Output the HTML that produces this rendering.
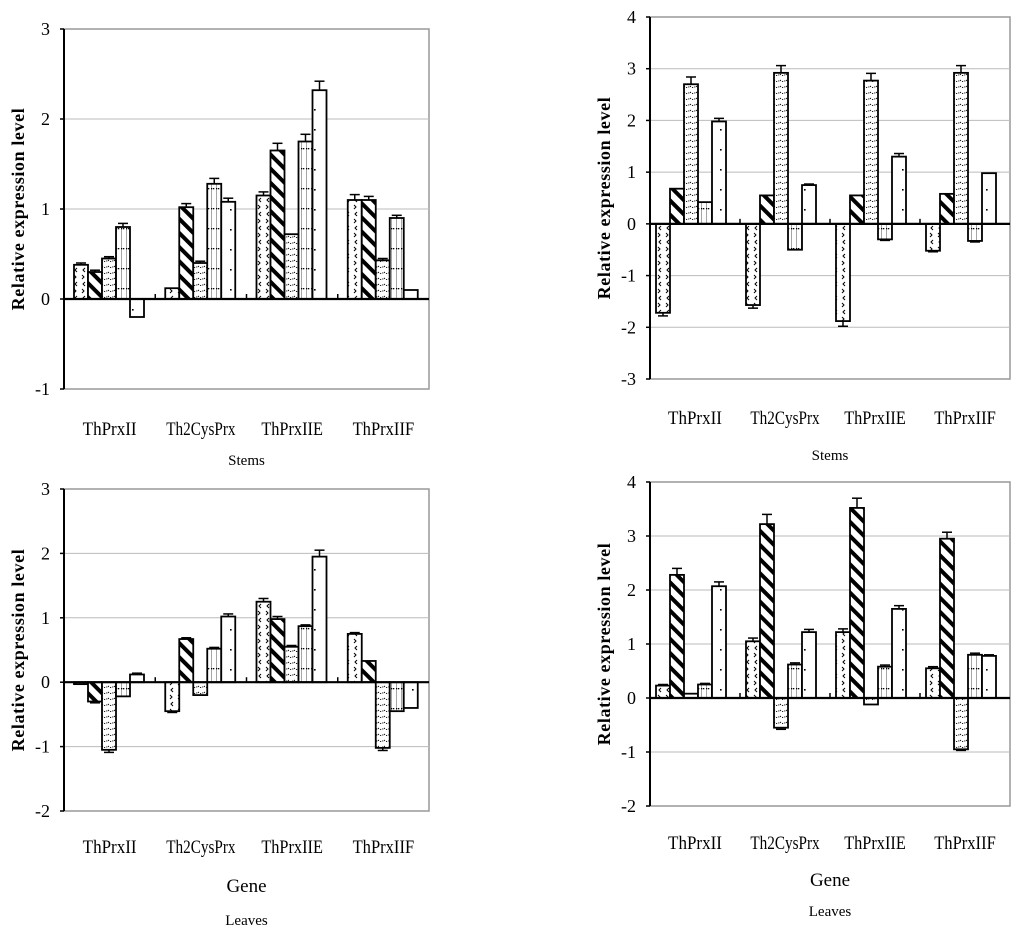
<!DOCTYPE html>
<html><head><meta charset="utf-8">
<style>
html,body{margin:0;padding:0;background:#fff;}
svg{display:block;font-family:"Liberation Serif",serif;}
</style></head>
<body>
<svg id="fig" width="1024" height="937" viewBox="0 0 1024 937">
<defs>
<pattern id="p0" width="8" height="14" patternUnits="userSpaceOnUse"><rect width="8" height="14" fill="#fff"/><path d="M5 2 L3 4 L5 6" stroke="#000" stroke-width="1" fill="none"/><path d="M2 9 L4 11 L2 13" stroke="#000" stroke-width="1" fill="none"/></pattern>
<pattern id="p1" width="10" height="10" patternUnits="userSpaceOnUse" patternTransform="rotate(-45)"><rect width="10" height="10" fill="#fff"/><rect x="0" y="0" width="4" height="10" fill="#000"/></pattern>
<pattern id="p2" width="6" height="6" patternUnits="userSpaceOnUse"><rect width="6" height="6" fill="#fff"/><path d="M0 2 Q3 5 6 2" stroke="#000" stroke-width="1" fill="none" stroke-dasharray="1.2 1.2"/></pattern>
<pattern id="p3" width="5" height="20" patternUnits="userSpaceOnUse"><rect width="5" height="20" fill="#fff"/><rect x="1" y="8" width="1.3" height="1.3" fill="#000"/><rect x="3" y="8" width="1.3" height="1.3" fill="#000"/><rect x="1" y="0" width="1" height="20" fill="#000" opacity="0.35"/></pattern>
<pattern id="p4" width="14" height="20" patternUnits="userSpaceOnUse"><rect width="14" height="20" fill="#fff"/><rect x="6" y="9" width="1.6" height="1.6" fill="#000"/></pattern>
</defs>
</svg>
<script>
// ---- data ----
const categories = ["ThPrxII","Th2CysPrx","ThPrxIIE","ThPrxIIF"];
const stemsLeftValues = [[0.38,0.30,0.45,0.80,-0.20],[0.12,1.02,0.40,1.28,1.08],[1.15,1.65,0.72,1.75,2.32],[1.10,1.10,0.43,0.90,0.10]];
const stemsLeftErr = [[0.02,0.02,0.02,0.04,0],[0,0.04,0.02,0.06,0.04],[0.04,0.08,0,0.08,0.1],[0.06,0.04,0.02,0.03,0]];
const stemsRightValues = [[-1.72,0.68,2.70,0.42,1.98],[-1.57,0.55,2.92,-0.50,0.75],[-1.88,0.55,2.77,-0.30,1.30],[-0.52,0.58,2.92,-0.33,0.98]];
const stemsRightErr = [[0.06,0,0.14,0,0.06],[0.06,0,0.14,0,0.02],[0.1,0,0.14,0.02,0.06],[0.02,0,0.14,0.02,0]];
const leavesLeftValues = [[-0.03,-0.30,-1.05,-0.22,0.12],[-0.45,0.67,-0.20,0.52,1.02],[1.25,0.98,0.55,0.87,1.95],[0.75,0.33,-1.02,-0.45,-0.40]];
const leavesLeftErr = [[0,0.02,0.04,0,0.02],[0.02,0.02,0,0.02,0.04],[0.05,0.04,0.02,0.02,0.1],[0.02,0,0.04,0,0]];
const leavesRightValues = [[0.23,2.28,0.08,0.25,2.07],[1.05,3.22,-0.55,0.62,1.22],[1.22,3.52,-0.12,0.58,1.65],[0.55,2.95,-0.95,0.80,0.78]];
const leavesRightErr = [[0.02,0.12,0,0.02,0.08],[0.06,0.18,0.03,0.03,0.05],[0.06,0.18,0,0.03,0.06],[0.03,0.12,0.02,0.03,0.02]];
const ticksTop = [3,2,1,0,-1];
const ticksTR = [4,3,2,1,0,-1,-2,-3];
const ticksBL = [3,2,1,0,-1,-2];
const ticksBR = [4,3,2,1,0,-1,-2];

const NS="http://www.w3.org/2000/svg";
const svg=document.getElementById('fig');
function mk(tag,attrs,parent){const e=document.createElementNS(NS,tag);for(const k in attrs)e.setAttribute(k,attrs[k]);(parent||svg).appendChild(e);return e;}

function chart(cfg){
  const g=mk('g',{});
  
  
  const {x0,x1,vmax,vmin,yTop,yBot}=cfg;
  const y=v=>yTop+(vmax-v)/(vmax-vmin)*(yBot-yTop);
  const gw=(x1-x0)/categories.length;
  const fr=mk('rect',{x:x0,y:yTop,width:x1-x0,height:yBot-yTop,fill:'none',stroke:'#999','stroke-width':1.5},g);
  
  
  cfg.ticks.forEach(t=>{
    if(t!==0 && t!==vmax && t!==vmin){
      const gl=mk('line',{x1:x0,x2:x1,y1:y(t),y2:y(t),stroke:'#bbb','stroke-width':1},g);
      
      
    }
    mk('line',{x1:x0-4,x2:x0,y1:y(t),y2:y(t),stroke:'#000','stroke-width':1.5},g);
    const tl=mk('text',{x:x0-14,y:y(t)+6,'font-size':18,'text-anchor':'end'},g);
    tl.textContent=t;
    
    
  });
  mk('line',{x1:x0,x2:x0,y1:yTop,y2:yBot,stroke:'#000','stroke-width':2},g);
  cfg.values.forEach((grp,i)=>{
    grp.forEach((v,j)=>{
      const bx=x0+i*gw+cfg.off+j*cfg.bw;
      const top=Math.min(y(v),y(0)), h=Math.abs(y(v)-y(0));
      const b=mk('rect',{x:bx,y:top,width:cfg.bw,height:Math.max(h,0.5),fill:'url(#p'+j+')',stroke:'#000','stroke-width':1.8},g);
      
      
      const e=cfg.err[i][j];
      if(e>0){
        const ye=v>=0?y(v+e):y(v-e), yb=y(v);
        mk('line',{x1:bx+cfg.bw/2,x2:bx+cfg.bw/2,y1:yb,y2:ye,stroke:'#000','stroke-width':1.5},g);
        mk('line',{x1:bx+cfg.bw/2-5,x2:bx+cfg.bw/2+5,y1:ye,y2:ye,stroke:'#000','stroke-width':1.5},g);
      }
    });
    if(i>0) mk('line',{x1:x0+i*gw,x2:x0+i*gw,y1:y(0),y2:y(0)-5,stroke:'#000','stroke-width':1.5},g);
    const cl=mk('text',{x:x0+i*gw+gw/2,y:cfg.catY,'font-size':19,'text-anchor':'middle',textLength:categories[i].length*7.7,lengthAdjust:'spacingAndGlyphs'},g);
    cl.textContent=categories[i];
    
    
  });
  mk('line',{x1:x0,x2:x1,y1:y(0),y2:y(0),stroke:'#000','stroke-width':2.2},g);
  const yt=mk('text',{transform:`translate(${x0-40},${(yTop+yBot)/2}) rotate(-90)`,'font-size':18,'font-weight':'bold','text-anchor':'middle','letter-spacing':0.6},g);
  yt.textContent='Relative expression level';
  
  
  if(cfg.geneY){
    const gt=mk('text',{x:(x0+x1)/2,y:cfg.geneY,'font-size':19,'text-anchor':'middle'},g);
    gt.textContent='Gene';
    
    
  }
  const st=mk('text',{x:(x0+x1)/2,y:cfg.subY,'font-size':15,'text-anchor':'middle'},g);
  st.textContent=cfg.sub;
  
  
}
chart({name:'stems-chart-left',x0:64,x1:429,vmax:3,vmin:-1,yTop:29,yBot:389,ticks:ticksTop,values:stemsLeftValues,err:stemsLeftErr,off:10,bw:14,catY:435,subY:465,sub:'Stems'});
chart({name:'stems-chart-right',x0:650,x1:1010,vmax:4,vmin:-3,yTop:17,yBot:379,ticks:ticksTR,values:stemsRightValues,err:stemsRightErr,off:6,bw:14,catY:424,subY:460,sub:'Stems'});
chart({name:'leaves-chart-left',x0:64,x1:429,vmax:3,vmin:-2,yTop:489,yBot:811,ticks:ticksBL,values:leavesLeftValues,err:leavesLeftErr,off:10,bw:14,catY:853,geneY:892,subY:925,sub:'Leaves'});
chart({name:'leaves-chart-right',x0:650,x1:1010,vmax:4,vmin:-2,yTop:482,yBot:806,ticks:ticksBR,values:leavesRightValues,err:leavesRightErr,off:6,bw:14,catY:849,geneY:886,subY:916,sub:'Leaves'});
</script>
</body></html>
